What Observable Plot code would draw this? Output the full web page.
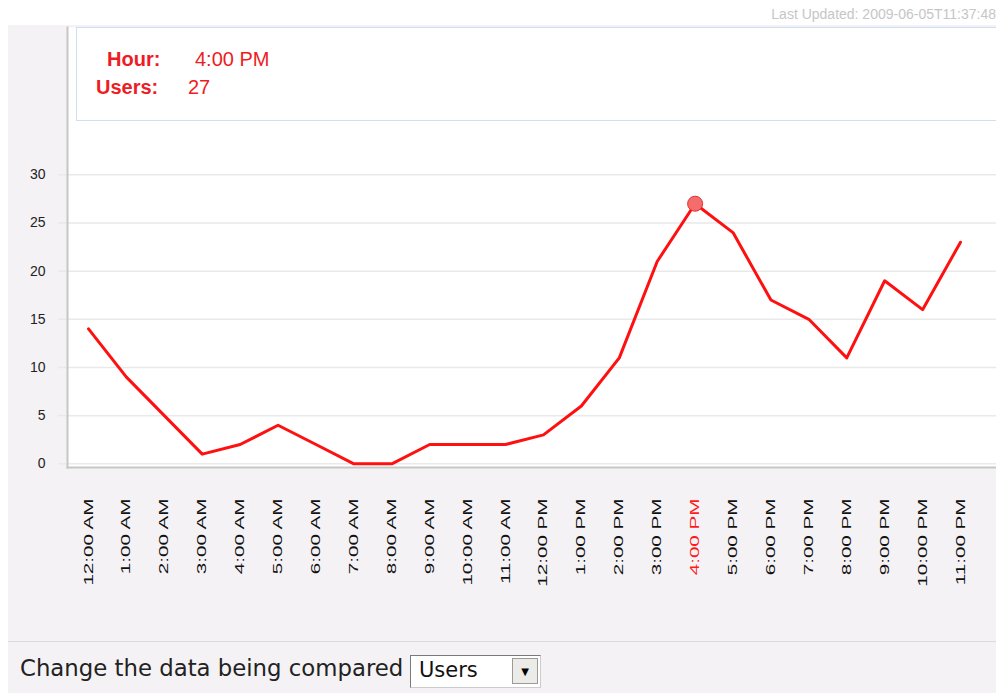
<!DOCTYPE html>
<html>
<head>
<meta charset="utf-8">
<script src="https://cdn.jsdelivr.net/npm/d3@7"></script>
<script src="https://cdn.jsdelivr.net/npm/@observablehq/plot@0.6"></script>
<style>
  html, body { margin: 0; padding: 0; width: 996px; height: 693px; overflow: hidden; background: #fff; }
  #panel { position: absolute; left: 8px; top: 25px; width: 988px; height: 668px; background: #f5f2f5; }
  #sep { position: absolute; left: 8px; top: 641px; width: 988px; height: 0; border-top: 1.5px solid #dcdadc; }
  #chart { position: absolute; left: 0; top: 0; }
  #updated { position: absolute; right: 0; top: 6px; font: 14px "Liberation Sans", Arial, sans-serif; color: #c6c6c6; white-space: nowrap; }
  #tip { position: absolute; left: 76px; top: 27px; width: 940px; height: 92px; background: #fff; border: 1.5px solid #cddff2; font-family: "Liberation Sans", Arial, sans-serif; color: #ee1c24; font-size: 20px; }
  #tip span { position: absolute; white-space: nowrap; }
  #tip .k { font-weight: bold; }
  #ctrl { position: absolute; left: 20px; top: 655px; font: 22.8px "DejaVu Sans", Verdana, sans-serif; color: #222; white-space: nowrap; }
  #sel { position: absolute; left: 410px; top: 655px; width: 131px; height: 33px; background: #fff; border: 1.5px solid #7a7a7a; border-right-color:#ccc; border-bottom-color:#ccc; box-sizing: border-box; font: 21px "DejaVu Sans", Verdana, sans-serif; color: #111; }
  #sel .t { position: absolute; left: 8px; top: 2px; }
  #sel .b { position: absolute; right: 2px; top: 2px; width: 26px; height: 26px; background: #ecebe8; border: 1px solid #9a9a9a; box-sizing: border-box; font-size: 10px; text-align: center; line-height: 25px; color: #000; }
</style>
</head>
<body>
<div id="panel"></div>
<div id="sep"></div>
<div id="chart"></div>
<div id="updated"></div>
<div id="tip"></div>
<div id="ctrl"></div>
<div id="sel"><span class="t"></span><span class="b">&#9660;</span></div>
<script>
// ---- data ----
const hours = ["12:00 AM","1:00 AM","2:00 AM","3:00 AM","4:00 AM","5:00 AM","6:00 AM","7:00 AM","8:00 AM","9:00 AM","10:00 AM","11:00 AM",
               "12:00 PM","1:00 PM","2:00 PM","3:00 PM","4:00 PM","5:00 PM","6:00 PM","7:00 PM","8:00 PM","9:00 PM","10:00 PM","11:00 PM"];
const users = [14,9,5,1,2,4,2,0,0,2,2,2,3,6,11,21,27,24,17,15,11,19,16,23];
const yTicks = [0,5,10,15,20,25,30];
const highlightHour = "4:00 PM";
const seriesName = "Users";
const hourLabel = "Hour:";
const lastUpdated = "Last Updated: 2009-06-05T11:37:48";
const controlLabel = "Change the data being compared";

const data = hours.map((h, i) => ({hour: h, users: users[i]}));
const hi = data.find(d => d.hour === highlightHour);

document.getElementById("updated").textContent = lastUpdated;
const tip = document.getElementById("tip");
const mk = (cls, txt, l, t) => { const s = document.createElement("span"); s.className = cls; s.textContent = txt; s.style.left = l + "px"; s.style.top = t + "px"; tip.appendChild(s); };
mk("k", hourLabel, 30, 20);
mk("v", hi.hour, 118, 20);
mk("k", seriesName + ":", 19, 48);
mk("v", String(hi.users), 111, 48);
document.getElementById("ctrl").textContent = controlLabel;
document.querySelector("#sel .t").textContent = seriesName;

const chart = Plot.plot({
  width: 996,
  height: 640,
  marginLeft: 67,
  marginRight: 0,
  marginTop: 27,
  marginBottom: 173,
  style: {background: "transparent", fontFamily: "'Liberation Sans', Arial, sans-serif", overflow: "visible"},
  x: {type: "point", domain: hours, range: [88, 960], padding: 0, round: false, label: null},
  y: {domain: [0, 30], range: [463.3, 174.3], label: null},
  marks: [
    Plot.frame({fill: "#fff"}),
    Plot.gridY(yTicks, {stroke: "#e9e9e9", strokeOpacity: 1, strokeWidth: 1.5}),
    Plot.axisY(yTicks, {tickSize: 9, tickPadding: 13, stroke: "#e9e9e9", strokeWidth: 1.5, fill: "#222", fontSize: 14, label: null}),
    Plot.axisX({tickRotate: -90, tickSize: 0, tickPadding: 31, fontSize: 12.5, label: null, fill: d => d === highlightHour ? "#ff1a1a" : "#111"}),
    Plot.frame({anchor: "left", stroke: "#c6c6c6", strokeWidth: 2}),
    Plot.frame({anchor: "bottom", stroke: "#c6c6c6", strokeWidth: 2}),
    Plot.line(data, {x: "hour", y: "users", stroke: "#ff1010", strokeWidth: 3}),
    Plot.dot([hi], {x: "hour", y: "users", r: 7.5, fill: "#f46c6c", stroke: "#e62b2b", strokeWidth: 1})
  ]
});
document.getElementById("chart").appendChild(chart);
// stretch the rotated tick labels along their length
chart.querySelectorAll('[aria-label="x-axis tick label"] text').forEach(t => {
  const tr = t.getAttribute("transform") || "";
  t.setAttribute("transform", tr + " scale(1.65,1)");
});
</script>
</body>
</html>
